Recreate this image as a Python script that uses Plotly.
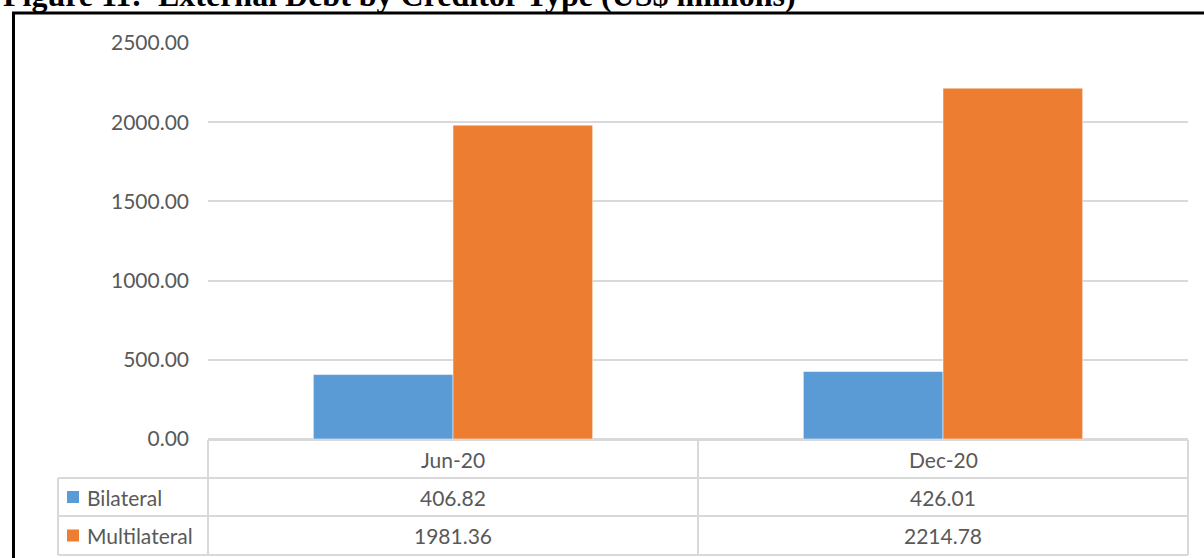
import plotly.graph_objects as go

periods = ["Jun-20", "Dec-20"]
bilateral = [406.82, 426.01]
multilateral = [1981.36, 2214.78]
series_names = ["Bilateral", "Multilateral"]
colors = ["#5b9bd5", "#ed7d31"]
y_ticks = [0, 500, 1000, 1500, 2000, 2500]

W, H = 1204, 558
L, R, T, B = 208, 1188, 43, 439  # plot area in pixels


def px(x):
    return (x - L) / (R - L)


def py(y):
    return (B - y) / (B - T)


font = "Lato, Calibri, Carlito, sans-serif"
grey_text = "#595959"
grid = "#d9d9d9"

fig = go.Figure()
for name, vals, col in zip(series_names, [bilateral, multilateral], colors):
    fig.add_trace(go.Bar(x=periods, y=vals, name=name, marker_color=col,
                         marker_line=dict(color="white", width=0.5)))

fig.update_layout(
    width=W, height=H,
    margin=dict(l=L, r=W - R, t=T, b=H - B),
    paper_bgcolor="white", plot_bgcolor="white",
    barmode="group", bargap=0.43, bargroupgap=0,
    showlegend=False,
    font=dict(family=font, size=21, color=grey_text),
)
fig.update_yaxes(range=[0, 2500], tickvals=y_ticks, tickformat=".2f",
                 showgrid=True, gridcolor=grid, gridwidth=2,
                 zeroline=True, zerolinecolor=grid, zerolinewidth=2,
                 ticklabelstandoff=18, tickfont=dict(size=21, color=grey_text))
fig.update_xaxes(range=[-0.5, 1.5], showticklabels=False, showgrid=False,
                 zeroline=False, showline=False)

shapes = []
line = dict(color=grid, width=2)
row_y = [440, 478, 516, 555]
# horizontal table lines
shapes.append(dict(type="line", xref="paper", yref="paper", x0=0, x1=1,
                   y0=py(row_y[0]), y1=py(row_y[0]), line=line))
for yy in row_y[1:]:
    shapes.append(dict(type="line", xref="paper", yref="paper", x0=px(58), x1=1,
                       y0=py(yy), y1=py(yy), line=line))
# vertical table lines
shapes.append(dict(type="line", xref="paper", yref="paper", x0=px(58), x1=px(58),
                   y0=py(row_y[1]), y1=py(row_y[3]), line=line))
for xx in [0, 1]:
    shapes.append(dict(type="line", xref="paper", yref="paper", x0=xx, x1=xx,
                       y0=py(row_y[0]), y1=py(row_y[3]), line=line))
shapes.append(dict(type="line", xref="x", yref="paper", x0=0.5, x1=0.5,
                   y0=py(row_y[0]), y1=py(row_y[3]), line=line))
# legend keys
for i, col in enumerate(colors):
    yc = (row_y[i + 1] + row_y[i + 2]) / 2
    shapes.append(dict(type="rect", xref="paper", yref="paper",
                       x0=px(67), x1=px(79), y0=py(yc - 6), y1=py(yc + 6),
                       fillcolor=col, line=dict(width=0)))
# outer black frame
shapes.append(dict(type="rect", xref="paper", yref="paper",
                   x0=px(13.5), x1=px(1220), y0=py(13), y1=py(600),
                   line=dict(color="black", width=3)))
fig.update_layout(shapes=shapes)

ann = []
rows = [None, bilateral, multilateral]
for r in range(3):
    yc = (row_y[r] + row_y[r + 1]) / 2
    for j, p in enumerate(periods):
        txt = p if r == 0 else f"{rows[r][j]:.2f}"
        ann.append(dict(x=p, xref="x", y=py(yc), yref="paper", text=txt,
                        showarrow=False, xanchor="center", yanchor="middle",
                        font=dict(size=21, color=grey_text, family=font)))
    if r > 0:
        ann.append(dict(x=px(85), xref="paper", y=py(yc), yref="paper",
                        text=series_names[r - 1], showarrow=False,
                        xanchor="left", yanchor="middle",
                        font=dict(size=21, color=grey_text, family=font)))
ann.append(dict(x=px(1), xref="paper", y=py(15), yref="paper",
                text="Figure 11:  External Debt by Creditor Type (US$ millions)",
                showarrow=False, xanchor="left", yanchor="bottom",
                font=dict(size=32, color="black",
                          family="Liberation Serif, Times New Roman, serif",
                          weight="bold")))
fig.update_layout(annotations=ann)

fig.write_html("out.html", config={"displayModeBar": False},
               post_script="document.body.style.margin='0';")
